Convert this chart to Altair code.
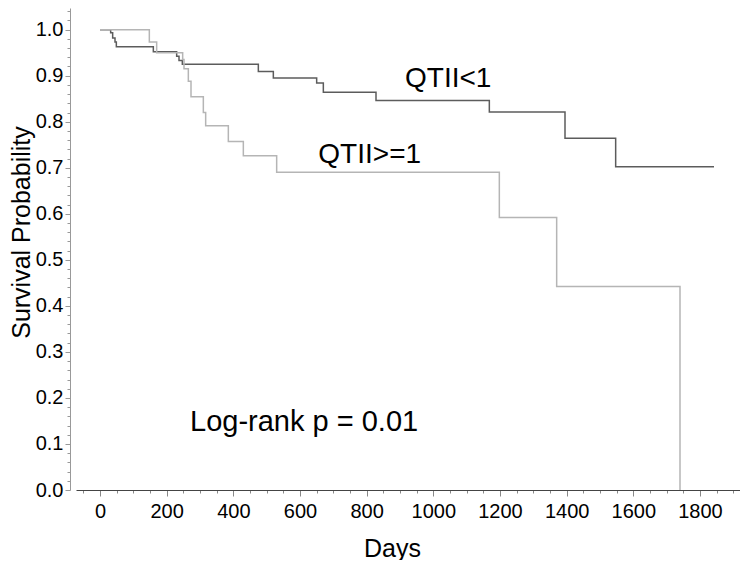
import altair as alt
import pandas as pd

# QTII<1 group (dark line): step times (days) and survival
low_days = [0, 32, 38, 45, 49, 160, 230, 237, 247, 475, 520, 650, 670, 828, 1168, 1395, 1547, 1842]
low_surv = [1.0, 0.993, 0.982, 0.973, 0.963, 0.952, 0.942, 0.933, 0.925, 0.909, 0.895, 0.884,
            0.864, 0.846, 0.821, 0.764, 0.702, 0.702]

# QTII>=1 group (light line)
high_days = [0, 148, 170, 248, 252, 265, 273, 310, 317, 385, 430, 530, 1198, 1370, 1740]
high_surv = [1.0, 0.973, 0.950, 0.935, 0.915, 0.888, 0.854, 0.820, 0.791, 0.757, 0.726, 0.690,
             0.592, 0.442, 0.0]

groups = ["QTII<1", "QTII>=1"]
colors = ["#5c5c5c", "#b5b5b5"]

ann_text = ["QTII<1", "QTII>=1"]
ann_days = [915, 655]
ann_surv = [0.876, 0.710]

pval_text = ["Log-rank p = 0.01"]
pval_days = [270]
pval_surv = [0.129]

x_ticks = list(range(-50, 1901, 50))
y_ticks = [round(i * 0.02, 2) for i in range(53)]

df = pd.concat([
    pd.DataFrame({"days": low_days, "surv": low_surv, "group": groups[0]}),
    pd.DataFrame({"days": high_days, "surv": high_surv, "group": groups[1]}),
])
ann = pd.DataFrame({"text": ann_text, "days": ann_days, "surv": ann_surv})
pval = pd.DataFrame({"text": pval_text, "days": pval_days, "surv": pval_surv})

FONT = "Liberation Sans"

x_axis = alt.Axis(
    title="Days",
    values=x_ticks,
    labelExpr="(datum.value % 200 == 0 && datum.value >= 0) ? datum.value : ''",
    labelOverlap=False, labelBound=False, labelFlush=False,
    labelFont=FONT, labelFontSize=20, labelColor="black", labelPadding=5,
    tickSize={"condition": {"test": "datum.value % 200 == 0", "value": 6}, "value": 3},
    tickColor="#888", domainColor="#444", domainWidth=1.2,
    grid=False,
    titleFont=FONT, titleFontSize=25, titleFontWeight="normal", titleColor="black",
    titleX=316, titleY=58, titleBaseline="middle",
)
y_axis = alt.Axis(
    title="Survival Probability",
    values=y_ticks,
    labelExpr="abs(datum.value * 10 - round(datum.value * 10)) < 0.001 ? format(datum.value, '.1f') : ''",
    labelOverlap=False, labelBound=False, labelFlush=False,
    labelFont=FONT, labelFontSize=20, labelColor="black", labelPadding=2,
    tickSize={"condition": {"test": "abs(datum.value * 10 - round(datum.value * 10)) < 0.001", "value": 5}, "value": 3},
    tickColor="#999", domainColor="#999",
    offset=6, grid=False,
    titleFont=FONT, titleFontSize=25, titleFontWeight="normal", titleColor="black",
    titleX=-49, titleY=224, titleBaseline="middle",
)

x_scale = alt.Scale(domain=[-72, 1920], nice=False, zero=False)
y_scale = alt.Scale(domain=[0, 1.047], nice=False)

lines = alt.Chart(df).mark_line(interpolate="step-after", strokeWidth=1.5).encode(
    x=alt.X("days:Q", scale=x_scale, axis=x_axis),
    y=alt.Y("surv:Q", scale=y_scale, axis=y_axis),
    color=alt.Color("group:N", scale=alt.Scale(domain=groups, range=colors), legend=None),
    detail="group:N",
)

texts = alt.Chart(ann).mark_text(
    align="left", baseline="alphabetic", font=FONT, fontSize=28, color="black"
).encode(
    x=alt.X("days:Q", scale=x_scale, axis=x_axis),
    y=alt.Y("surv:Q", scale=y_scale, axis=y_axis),
    text="text:N",
)

ptext = alt.Chart(pval).mark_text(
    align="left", baseline="alphabetic", font=FONT, fontSize=29, color="black"
).encode(
    x=alt.X("days:Q", scale=x_scale, axis=x_axis),
    y=alt.Y("surv:Q", scale=y_scale, axis=y_axis),
    text="text:N",
)

chart = alt.layer(lines, texts, ptext).properties(
    width=664,
    height=482,
    autosize=alt.AutoSizeParams(type="none"),
    padding={"left": 68, "top": 0, "right": 0, "bottom": 70},
).configure_view(strokeWidth=0)

chart.save("out.html", embed_options={"renderer": "svg", "actions": False})
